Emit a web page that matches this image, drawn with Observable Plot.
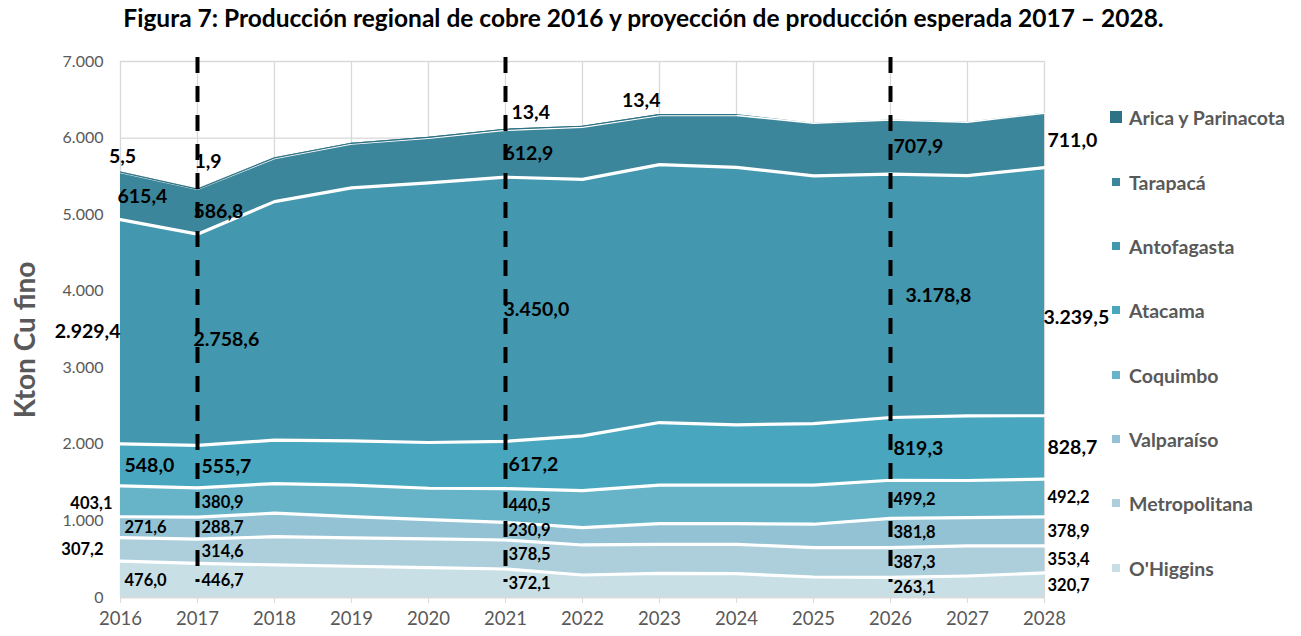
<!DOCTYPE html>
<html>
<head>
<meta charset="utf-8">
<script src="https://cdn.jsdelivr.net/npm/d3@7"></script>
<script src="https://cdn.jsdelivr.net/npm/@observablehq/plot@0.6"></script>
<style>
  body { margin: 0; background: #fff; }
  #wrap { position: relative; width: 1301px; height: 636px; font-family: Lato, sans-serif; overflow: hidden; }
  #chart { position: absolute; left: 0; top: 0; }
  #title { position: absolute; left: 0; top: 6px; width: 1287px; text-align: center; font-weight: 700; font-size: 24.5px; line-height: 24.5px; color: #000; white-space: nowrap; }
  #ylabel { position: absolute; left: 24px; top: 340px; transform: translate(-50%, -50%) rotate(-90deg); font-weight: 700; font-size: 28px; color: #595959; white-space: nowrap; }
  .lg { position: absolute; left: 1110px; height: 22px; display: flex; align-items: center; font-weight: 700; font-size: 19.5px; color: #595959; white-space: nowrap; }
  .lg span.sw { display: inline-block; }
</style>
</head>
<body>
<div id="wrap">
  <div id="chart"></div>
  <div id="title">Figura 7: Producción regional de cobre 2016 y proyección de producción esperada 2017 – 2028.</div>
  <div id="ylabel">Kton Cu fino</div>
  <div id="legend"></div>
</div>
<script>
// ---------------- data ----------------
const years = [2016, 2017, 2018, 2019, 2020, 2021, 2022, 2023, 2024, 2025, 2026, 2027, 2028];
const regions = ["O'Higgins", "Metropolitana", "Valparaíso", "Coquimbo", "Atacama", "Antofagasta", "Tarapacá", "Arica y Parinacota"];
const ohiggins      = [476.0, 446.7, 425, 408, 390, 372.1, 294, 316, 311, 268, 263.1, 281, 320.7];
const metropolitana = [307.2, 314.6, 370, 370, 375, 378.5, 392, 379, 384, 383, 387.3, 392, 353.4];
const valparaiso    = [271.6, 288.7, 306, 278, 252, 230.9, 226, 270, 270, 306, 381.8, 370, 378.9];
const coquimbo      = [403.1, 380.9, 387, 411, 410, 440.5, 484, 502, 502, 510, 499.2, 485, 492.2];
const atacama       = [548.0, 555.7, 567, 579, 597, 617.2, 715, 818, 788, 805, 819.3, 845, 828.7];
const antofagasta   = [2929.4, 2758.6, 3115, 3303, 3390, 3450.0, 3350, 3369, 3363, 3234, 3178.8, 3137, 3239.5];
const tarapaca      = [615.4, 586.8, 563, 573, 584, 612.9, 680, 640, 676, 687, 707.9, 697, 711.0];
const arica         = [5.5, 1.9, 8, 10, 12, 13.4, 13.4, 13.4, 13.4, 0, 0, 0, 0];
const yTicks = [0, 1000, 2000, 3000, 4000, 5000, 6000, 7000];
const projectionYears = [2017, 2021, 2026];
const labelYears = [2016, 2017, 2021, 2026, 2028];
const aricaLabelYears = [2016, 2017, 2021, 2023];

// ---------------- styling ----------------
const colors = ["#c8dfe6", "#adcfdb", "#92c2d3", "#67b3c8", "#48a6bf", "#4397ae", "#3b869a", "#2e7285"];
const series = [ohiggins, metropolitana, valparaiso, coquimbo, atacama, antofagasta, tarapaca, arica];

const loc = d3.formatLocale({decimal: ",", thousands: ".", grouping: [3], currency: ["", ""]});
const fmt1 = loc.format(",.1f");
const fmt0 = loc.format(",.0f");

const rows = [];
regions.forEach((r, i) => years.forEach((y, j) => rows.push({region: r, year: y, value: series[i][j]})));

// label positions: middle of each stacked band (Arica: above the top)
const labels = [];
years.forEach((yr, j) => {
  let base = 0;
  regions.forEach((r, i) => {
    const v = series[i][j];
    const isArica = r === "Arica y Parinacota";
    if ((isArica && aricaLabelYears.includes(yr)) || (!isArica && labelYears.includes(yr))) {
      labels.push({region: r, year: yr, value: v, y: isArica ? base + v : base + v / 2, text: fmt1(v)});
    }
    base += v;
  });
});
const big = new Set(["Atacama", "Antofagasta", "Tarapacá", "Arica y Parinacota"]);
function place(d) {
  const isArica = d.region === "Arica y Parinacota";
  if (isArica) {
    if (d.year === 2016) return {anchor: "middle", dx: 2, dy: -15};
    if (d.year === 2023) return {anchor: "end", dx: 1, dy: -14};
    if (d.year === 2017) return {anchor: "start", dx: -3, dy: -27};
    return {anchor: "start", dx: 6, dy: -16};
  }
  if (d.year === 2016) {
    if (d.region === "Antofagasta") return {anchor: "end", dx: 0, dy: 0};
    if (d.region === "Coquimbo") return {anchor: "end", dx: -8, dy: 2};
    if (d.region === "Metropolitana") return {anchor: "end", dx: -17, dy: 0};
    if (d.region === "Tarapacá") return {anchor: "start", dx: -3, dy: 1};
    return {anchor: "start", dx: 4, dy: 1};
  }
  if (d.year === 2017) return {anchor: "start", dx: (d.region === "Antofagasta" || d.region === "Tarapacá") ? -4 : 4, dy: 0};
  if (d.year === 2021) return {anchor: "start", dx: d.region === "Antofagasta" || d.region === "Tarapacá" ? -2 : 3, dy: 0};
  if (d.year === 2026) return {anchor: "start", dx: d.region === "Antofagasta" ? 15 : 3, dy: 0};
  return {anchor: "start", dx: d.region === "Antofagasta" ? -1 : 3, dy: d.region === "Antofagasta" ? 26 : 0};
}
const groups = d3.groups(labels, d => { const p = place(d); return p.anchor + "|" + p.dx + "|" + p.dy; });
const labelMarks = groups.map(([key, arr]) => {
  const [anchor, dx, dy] = key.split("|");
  return Plot.text(arr, {
    x: "year", y: "y", text: "text", textAnchor: anchor, dx: +dx, dy: +dy,
    fontSize: d => big.has(d.region) ? 19.5 : 16.5, fontWeight: "bold", fill: "#000"
  });
});

const lower = new Set(regions.slice(0, 6));
const stackOpts = {x: "year", y: "value", z: "region"};

const chart = Plot.plot({
  width: 1301, height: 636,
  marginTop: 61, marginBottom: 39, marginLeft: 120, marginRight: 257,
  style: {fontFamily: "Lato, sans-serif", background: "transparent", overflow: "visible"},
  x: {type: "linear", domain: [2016, 2028]},
  y: {domain: [0, 7000]},
  color: {domain: regions, range: colors},
  marks: [
    Plot.gridY(yTicks, {stroke: "#d9d9d9", strokeOpacity: 1, strokeWidth: 1.3}),
    Plot.gridX(years, {stroke: "#d9d9d9", strokeOpacity: 1, strokeWidth: 1.3}),
    Plot.areaY(rows, {...stackOpts, fill: "region"}),
    Plot.lineY(rows, Plot.filter(d => lower.has(d.region), Plot.stackY2({...stackOpts, stroke: "white", strokeWidth: 3.2}))),
    Plot.lineY(rows, Plot.filter(d => d.region === "Tarapacá", Plot.stackY2({...stackOpts, stroke: "white", strokeWidth: 1.5}))),
    Plot.lineY(rows, Plot.filter(d => d.region === "Arica y Parinacota" && d.value > 0, Plot.stackY2({...stackOpts, stroke: colors[7], strokeWidth: 1.2}))),
    Plot.ruleY([0], {stroke: "#d9d9d9", strokeWidth: 1.5}),
    Plot.axisX(years, {tickSize: 6, tickPadding: 8, stroke: "#d9d9d9", fill: "#595959", fontSize: 18.5, tickFormat: d => String(d), label: null}),
    Plot.axisY(yTicks, {tickSize: 0, tickPadding: 17, fill: "#595959", fontSize: 16, tickFormat: fmt0, label: null}),
    ...labelMarks,
    Plot.ruleX(projectionYears, {stroke: "#000", strokeWidth: 4, strokeDasharray: "16,13", insetTop: -4, insetBottom: 15})
  ]
});
document.getElementById("chart").appendChild(chart);

// legend (top to bottom: reverse stacking order)
const legendY = [117, 182, 246, 310, 375, 439, 503, 568];
const lg = document.getElementById("legend");
regions.slice().reverse().forEach((r, k) => {
  const i = regions.length - 1 - k;
  const el = document.createElement("div");
  el.className = "lg";
  el.style.top = (legendY[k] - 11) + "px";
  const s = i === 7 ? 12 : 8;
  el.innerHTML = `<span class="sw" style="width:${s}px;height:${s}px;background:${colors[i]};margin-left:${i === 7 ? 0 : 2}px;margin-right:${i === 7 ? 7 : 9}px"></span>${r}`;
  lg.appendChild(el);
});
</script>
</body>
</html>
